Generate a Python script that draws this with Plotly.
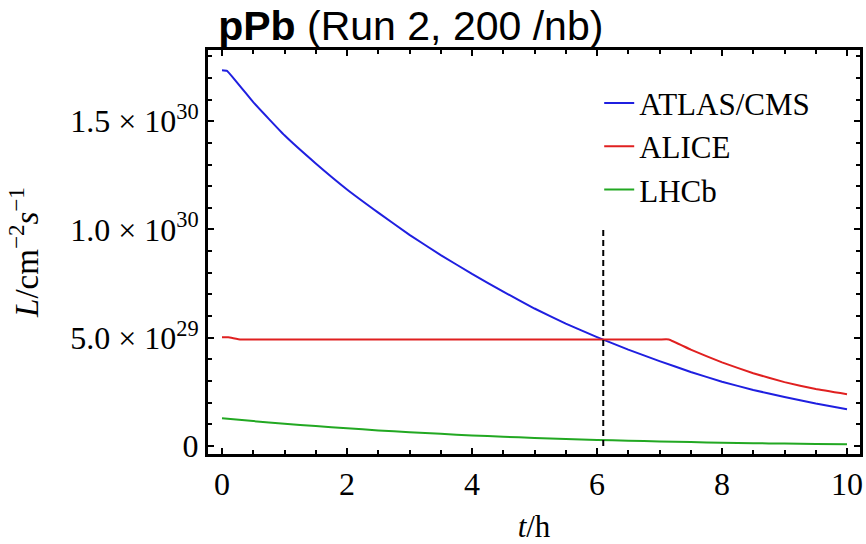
import plotly.graph_objects as go

# ---- data (luminosity in units of 1e30 cm^-2 s^-1, time in hours) ----
t_atlas = [0, 0.08, 0.5, 1, 1.5, 2, 2.5, 3, 3.5, 4, 4.5, 5, 5.5, 6, 6.5, 7, 7.5, 8, 8.5, 9, 9.5, 10]
L_atlas = [1.736, 1.733, 1.588, 1.435, 1.305, 1.185, 1.078, 0.975, 0.882, 0.795, 0.713, 0.635, 0.565, 0.503,
           0.445, 0.392, 0.342, 0.297, 0.259, 0.226, 0.196, 0.17]

t_alice = [0, 0.1, 0.3, 1, 2, 3, 4, 5, 6, 7, 7.15, 7.5, 8, 8.5, 9, 9.5, 10]
L_alice = [0.502, 0.502, 0.492, 0.492, 0.492, 0.492, 0.492, 0.492, 0.492, 0.492, 0.492,
           0.445, 0.386, 0.336, 0.295, 0.263, 0.239]

t_lhcb = [0, 0.5, 1, 1.5, 2, 2.5, 3, 3.5, 4, 4.5, 5, 5.5, 6, 6.5, 7, 7.5, 8, 8.5, 9, 9.5, 10]
L_lhcb = [0.128, 0.115, 0.103, 0.092, 0.082, 0.072, 0.064, 0.056, 0.049, 0.043, 0.037, 0.032,
          0.028, 0.024, 0.021, 0.018, 0.015, 0.013, 0.011, 0.009, 0.008]

levelling_end_t = [6.1, 6.1]
levelling_end_L = [0.0, 1.0]

scale = 1e30
y_tickvals = [0, 0.5e30, 1.0e30, 1.5e30]
y_ticktext = ["0", "5.0 × 10<sup>29</sup>", "1.0 × 10<sup>30</sup>", "1.5 × 10<sup>30</sup>"]
x_tickvals = [0, 2, 4, 6, 8, 10]

names = ["ATLAS/CMS", "ALICE", "LHCb"]
colors = ["#1f1fe0", "#e02020", "#22a822"]

fig = go.Figure()
for name, t, L, c in zip(names, [t_atlas, t_alice, t_lhcb], [L_atlas, L_alice, L_lhcb], colors):
    fig.add_trace(go.Scatter(x=t, y=[v * scale for v in L], mode="lines", name=name,
                             line=dict(color=c, width=2, shape="spline", smoothing=0.3)))

fig.add_trace(go.Scatter(x=levelling_end_t, y=[v * scale for v in levelling_end_L], mode="lines",
                         showlegend=False, line=dict(color="black", width=2, dash="6px,4px")))

serif = "Liberation Serif"
fig.update_layout(
    width=866, height=544,
    margin=dict(l=208, r=6, t=50, b=90, autoexpand=False),
    paper_bgcolor="white", plot_bgcolor="white",
    title=dict(text="<b>pPb</b> (Run 2, 200 /nb)", x=0.252, xanchor="left", xref="container",
               y=0.953, yanchor="middle", yref="container",
               font=dict(family="Liberation Sans", size=41, color="black")),
    legend=dict(x=0.6, xanchor="left", y=0.935, yanchor="top", bgcolor="rgba(0,0,0,0)",
                font=dict(family=serif, size=31, color="black"), tracegroupgap=0,
                itemwidth=30),
    showlegend=True,
)
fig.update_xaxes(
    range=[-0.224, 10.208], tickvals=x_tickvals, ticks="inside", ticklen=6, tickwidth=2,
    tickcolor="black", showline=True, linecolor="black", linewidth=3, mirror="allticks",
    showgrid=False, zeroline=False,
    tickfont=dict(family=serif, size=32, color="black"),
    minor=dict(dtick=0.5, ticks="inside", ticklen=4, tickwidth=2, tickcolor="black", showgrid=False),
    title=dict(text="<i>t</i>/h", font=dict(family=serif, size=31, color="black"), standoff=18),
)
fig.update_yaxes(
    range=[-0.037e30, 1.829e30], tickvals=y_tickvals, ticktext=y_ticktext, ticks="inside",
    ticklen=6, tickwidth=2, tickcolor="black", showline=True, linecolor="black", linewidth=3,
    mirror="allticks", showgrid=False, zeroline=False,
    tickfont=dict(family=serif, size=32, color="black"),
    minor=dict(dtick=0.1e30, ticks="inside", ticklen=4, tickwidth=2, tickcolor="black", showgrid=False),
    title=dict(text="<i>L</i>/cm<sup>−2</sup><i>s</i><sup>−1</sup>",
               font=dict(family=serif, size=33, color="black"), standoff=22),
)

fig.write_html("out.html")
